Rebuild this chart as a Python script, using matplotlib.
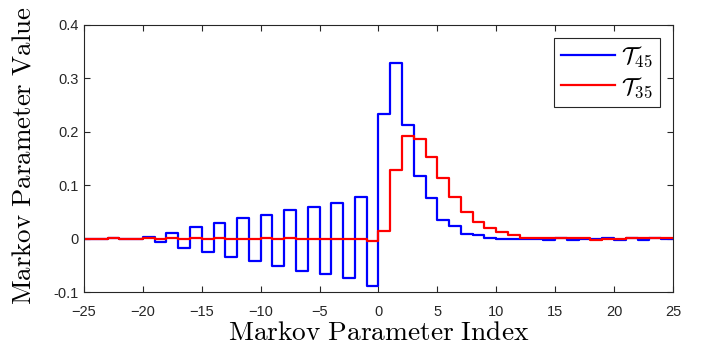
import numpy as np
import matplotlib
matplotlib.use('Agg')
import matplotlib.pyplot as plt

plt.rcParams['mathtext.fontset'] = 'cm'
plt.rcParams['font.family'] = ['Liberation Sans', 'DejaVu Sans']

# Markov parameter index
k = np.arange(-25, 26)

# T_45 markov parameters
t45 = [0.000, 0.000, 0.001, 0.000, -0.001, 0.003, -0.007, 0.010, -0.017, 0.021,
       -0.025, 0.030, -0.035, 0.038, -0.042, 0.045, -0.052, 0.054, -0.060, 0.060,
       -0.066, 0.067, -0.073, 0.077, -0.089, 0.233, 0.328, 0.213, 0.118, 0.076,
       0.034, 0.023, 0.008, 0.006, 0.002, 0.000, 0.000, -0.001, 0.000, -0.003,
       0.002, -0.003, 0.000, 0.000, 0.002, -0.003, 0.002, -0.003, 0.002, -0.001,
       -0.001]

# T_35 markov parameters
t35 = [0.000, -0.001, 0.001, -0.001, 0.000, 0.001, -0.001, 0.001, 0.000, 0.001,
       -0.001, 0.001, -0.001, 0.000, -0.001, 0.001, 0.000, 0.001, -0.001, 0.000,
       -0.001, 0.000, 0.000, 0.000, -0.004, 0.015, 0.128, 0.192, 0.187, 0.153,
       0.114, 0.077, 0.050, 0.031, 0.020, 0.012, 0.007, 0.001, 0.001, 0.001,
       0.001, 0.001, 0.001, -0.002, 0.000, -0.001, 0.001, 0.001, 0.001, 0.001,
       0.001]

fig = plt.figure(figsize=(7.22, 3.57), dpi=100)
ax = fig.add_axes([0.1163, 0.182, 0.8157, 0.748])

ax.step(k, t45, where='post', color='b', lw=1.6, label=r'$\mathcal{T}_{45}$')
ax.step(k, t35, where='post', color='r', lw=1.6, label=r'$\mathcal{T}_{35}$')

ax.set_xlim(-25, 25)
ax.set_ylim(-0.1, 0.4)
ax.set_xticks(np.arange(-25, 26, 5))
ax.set_yticks([-0.1, 0, 0.1, 0.2, 0.3, 0.4])
ax.set_yticklabels(['-0.1', '0', '0.1', '0.2', '0.3', '0.4'])
ax.tick_params(direction='in', top=True, right=True, labelsize=10.5, length=4,
               color='#262626', labelcolor='#262626')
ax.tick_params(axis='x', pad=9)
for s in ax.spines.values():
    s.set_color('#262626')
    s.set_linewidth(0.8)

ax.set_xlabel(r'$\mathrm{Markov\ Parameter\ Index}$', fontsize=19.7, labelpad=1)
ax.set_ylabel(r'$\mathrm{Markov\ Parameter\ Value}$', fontsize=19.4, labelpad=12)
ax.yaxis.set_label_coords(-0.08, 0.51)

leg = ax.legend(loc='upper right', fontsize=17, fancybox=False, framealpha=1,
                edgecolor='#262626', handlelength=2.3, borderpad=0.3,
                labelspacing=0.25, borderaxespad=0.55, handletextpad=0.25)
leg.get_frame().set_linewidth(0.8)

plt.savefig('out.png', dpi=100)
